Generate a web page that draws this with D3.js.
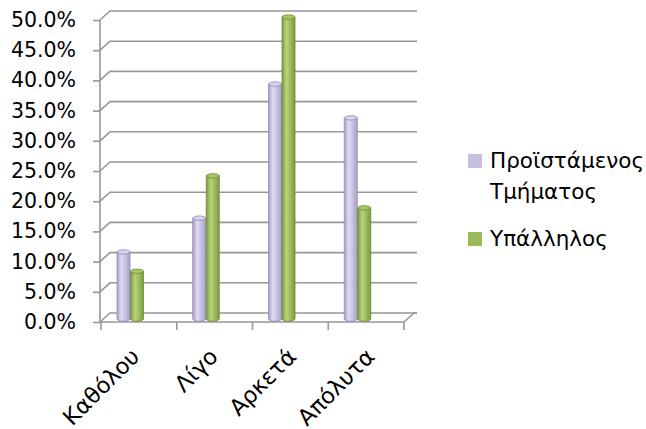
<!DOCTYPE html>
<html>
<head>
<meta charset="utf-8">
<script src="https://cdn.jsdelivr.net/npm/d3@7"></script>
<style>
  body { margin: 0; background: #fff; }
  svg { display: block; }
  text { font-family: "DejaVu Sans", sans-serif; fill: #000; }
</style>
</head>
<body>
<svg id="chart" width="646" height="429"></svg>
<script>
// Survey answers by respondent group (percent)
const categories = ["Καθόλου", "Λίγο", "Αρκετά", "Απόλυτα"];
const seriesNames = ["Προϊστάμενος Τμήματος", "Υπάλληλος"];
const supervisorValues = [11.1, 16.7, 38.9, 33.3];
const employeeValues = [7.9, 23.7, 50.0, 18.4];
const yTickValues = [0, 5, 10, 15, 20, 25, 30, 35, 40, 45, 50];

const seriesValues = [supervisorValues, employeeValues];
const palette = [
  { edge: "#a99fca", mid: "#e2dcf1", stroke: "#9188b6", cap: "#d9d2ec" },
  { edge: "#7c9c3c", mid: "#b8d47e", stroke: "#6a8a30", cap: "#a8c866" }
];

const svg = d3.select("#chart");

// front plane scales
const x = d3.scaleBand().domain(categories).range([101, 404]);
const y = d3.scaleLinear().domain([0, 50]).range([322, 20]);
const xInner = d3.scaleBand().domain(seriesNames).range([16, 43]);
// 3D depth offsets: back wall and bar mid-plane
const depth = { dx: 10, dy: -9 };
const barShift = -3;

// gradients for cylindrical bars
const defs = svg.append("defs");
palette.forEach((p, i) => {
  const g = defs.append("linearGradient").attr("id", "cyl" + i)
    .attr("x1", "0%").attr("x2", "100%").attr("y1", "0%").attr("y2", "0%");
  g.append("stop").attr("offset", "0%").attr("stop-color", p.edge);
  g.append("stop").attr("offset", "35%").attr("stop-color", p.mid);
  g.append("stop").attr("offset", "100%").attr("stop-color", p.edge);
});

const gridColor = "#979797";

// back wall gridlines with diagonal connectors to the value axis
const grid = svg.append("g").attr("fill", "none").attr("stroke", gridColor).attr("stroke-width", 1.6);
yTickValues.forEach(t => {
  const yy = y(t);
  grid.append("path").attr("d", d3.line()([
    [x.range()[0] - 1, yy],
    [x.range()[0] - 1 + depth.dx, yy + depth.dy],
    [x.range()[1] + 13, yy + depth.dy]
  ]));
});

// floor front edge and right side
grid.append("path").attr("d", d3.line()([
  [x.range()[0] - 1, y(0)],
  [x.range()[1], y(0)],
  [x.range()[1] + depth.dx, y(0) + depth.dy],
  [x.range()[1] + 13, y(0) + depth.dy]
]));

// category tick marks
const catEdges = categories.map(c => x(c)).concat([x.range()[1]]);
svg.append("g").attr("stroke", gridColor).attr("stroke-width", 1.6)
  .selectAll("line").data(catEdges).join("line")
  .attr("x1", d => d).attr("x2", d => d)
  .attr("y1", y(0)).attr("y2", y(0) + 8);

// value axis
const yAxis = svg.append("g").attr("transform", "translate(100,0)")
  .call(d3.axisLeft(y).tickValues(yTickValues).tickSize(7).tickPadding(17)
    .tickFormat(d => d.toFixed(1) + "%"));
yAxis.select(".domain").attr("stroke", gridColor).attr("stroke-width", 1.6)
  .attr("d", `M0,${y(0)}V${y(50)}`);
yAxis.selectAll(".tick line").attr("stroke", gridColor).attr("stroke-width", 1.6);
yAxis.selectAll(".tick text").style("font-size", "20.5px")
  .style("font-family", '"DejaVu Sans", sans-serif').attr("fill", "#000");

// cylinder bars
const ry = 2.2;
const bars = svg.append("g");
categories.forEach((c, ci) => {
  seriesNames.forEach((s, si) => {
    const v = seriesValues[si][ci];
    const p = palette[si];
    const x0 = x(c) + xInner(s);
    const w = xInner.bandwidth() - 0.5;
    const yTop = y(v) + barShift;
    const yBase = y(0) + barShift;
    const g = bars.append("g");
    g.append("path")
      .attr("d", `M${x0},${yTop}V${yBase}A${w / 2},${ry} 0 0 0 ${x0 + w},${yBase}V${yTop}Z`)
      .attr("fill", `url(#cyl${si})`).attr("stroke", p.stroke).attr("stroke-width", 0.8);
    g.append("ellipse")
      .attr("cx", x0 + w / 2).attr("cy", yTop).attr("rx", w / 2).attr("ry", ry)
      .attr("fill", p.cap).attr("stroke", p.stroke).attr("stroke-width", 0.8);
  });
});

// rotated category labels
const labelX = d3.scalePoint().domain(categories).range([141, 376]);
svg.append("g").selectAll("text").data(categories).join("text")
  .attr("transform", d => `translate(${labelX(d)},358) rotate(-45)`)
  .attr("text-anchor", "end")
  .style("font-size", "22.5px")
  .text(d => d);

// legend
const legend = svg.append("g");
const legendRows = [
  { lines: ["Προϊστάμενος", "Τμήματος"], y: 154 },
  { lines: ["Υπάλληλος"], y: 232 }
];
legendRows.forEach((r, i) => {
  legend.append("rect").attr("x", 468).attr("y", r.y).attr("width", 14).attr("height", 14)
    .attr("fill", i === 0 ? "#c6bfdd" : "#9bbb59");
  const t = legend.append("text").attr("x", 490).attr("y", r.y + 14).style("font-size", "21.5px");
  r.lines.forEach((ln, li) => {
    t.append("tspan").attr("x", 490).attr("dy", li === 0 ? 0 : 31).text(ln);
  });
});
</script>
</body>
</html>
